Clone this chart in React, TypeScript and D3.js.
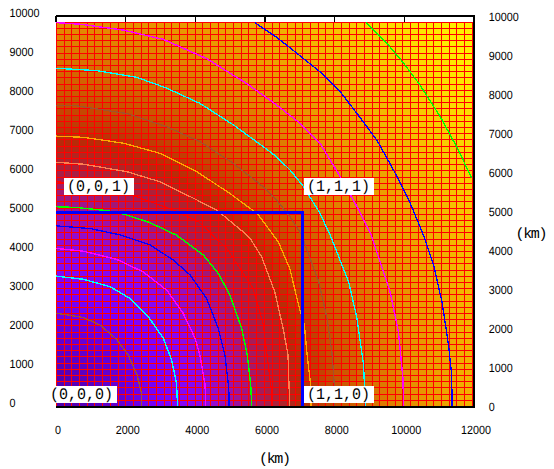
import React from "react";
import * as d3 from "d3";

const xTicks = [0, 2000, 4000, 6000, 8000, 10000, 12000];
const yTicks = [0, 1000, 2000, 3000, 4000, 5000, 6000, 7000, 8000, 9000, 10000];

// Background field sampled every 1000 km (rows: y = 0..10, columns: x = 0..12)
const fieldRows = [
  [0, 1, 2, 3, 4, 5, 6, 7, 8, 9, 10, 11, 12],
  [1.03, 1.44, 2.25, 3.17, 4.13, 5.1, 6.09, 7.08, 8.07, 9.06, 10.05, 11.05, 12.04],
  [2.06, 2.29, 2.87, 3.64, 4.5, 5.41, 6.34, 7.3, 8.26, 9.23, 10.21, 11.19, 12.18],
  [3.09, 3.25, 3.68, 4.31, 5.05, 5.88, 6.75, 7.65, 8.58, 9.52, 10.47, 11.43, 12.39],
  [4.12, 4.24, 4.58, 5.1, 5.74, 6.48, 7.28, 8.12, 9.0, 9.9, 10.82, 11.75, 12.69],
  [5.15, 5.25, 5.52, 5.96, 6.52, 7.18, 7.91, 8.69, 9.51, 10.37, 11.25, 12.15, 13.06],
  [6.18, 6.26, 6.5, 6.87, 7.36, 7.95, 8.61, 9.34, 10.11, 10.92, 11.76, 12.62, 13.5],
  [7.21, 7.28, 7.48, 7.81, 8.24, 8.77, 9.38, 10.05, 10.77, 11.53, 12.33, 13.15, 14.0],
  [8.24, 8.3, 8.48, 8.77, 9.16, 9.64, 10.19, 10.81, 11.48, 12.2, 12.96, 13.74, 14.56],
  [9.27, 9.32, 9.48, 9.74, 10.1, 10.53, 11.04, 11.62, 12.24, 12.92, 13.64, 14.39, 15.16],
  [10.3, 10.35, 10.49, 10.73, 11.05, 11.45, 11.92, 12.45, 13.04, 13.68, 14.36, 15.07, 15.81],
];
const colorLevels = [0, 1, 2, 3, 4, 5, 6, 7, 8, 9, 10, 11, 12, 13, 14, 15, 16];
const colorStops = ["#5000a8", "#5800b8", "#6600d8", "#7a00ff", "#8a08f0", "#9a10b0", "#a81c50", "#b82a08", "#c84e00", "#d86e00", "#e48a00", "#eca000", "#f2b400", "#f8c800", "#fcdc00", "#ffee00", "#fff000"];

const gridStepXKm = 221;
const gridStepYKm = 159;
const gridTopKm = 9835;
const gridRightKm = 11970;

type Pt = [number, number];
const brownInner: Pt[] = [[0, 2.38], [0.78, 2.27], [1.26, 2.08], [1.74, 1.71], [2.07, 1.31], [2.33, 0.79], [2.45, 0.33], [2.45, 0]];
const cyanInner: Pt[] = [[0, 3.33], [0.78, 3.25], [1.55, 3.06], [2.12, 2.76], [2.65, 2.29], [3.08, 1.74], [3.32, 1.18], [3.46, 0.58], [3.49, 0]];
const magentaInner: Pt[] = [[0, 4.04], [0.78, 3.97], [1.74, 3.76], [2.5, 3.44], [3.18, 2.97], [3.65, 2.38], [3.99, 1.74], [4.13, 1.31], [4.28, 0.54], [4.3, 0]];
const blueInner: Pt[] = [[0, 4.62], [0.98, 4.55], [1.88, 4.38], [2.7, 4.13], [3.37, 3.74], [3.85, 3.36], [4.32, 2.76], [4.66, 1.99], [4.85, 1.31], [4.96, 0.45], [4.97, 0]];
const greenInner: Pt[] = [[0, 5.11], [0.59, 5.09], [1.45, 5.01], [1.95, 4.92], [2.7, 4.7], [3.46, 4.38], [4.23, 3.87], [4.66, 3.4], [4.99, 2.85], [5.33, 1.99], [5.49, 1.31], [5.59, 0.54], [5.62, 0]];
const redLine: Pt[] = [[0, 5.75], [1, 5.68], [2.2, 5.4], [3.3, 5.05], [4.1, 4.72], [4.9, 4.04], [5.65, 3.03], [5.95, 2.1], [6.08, 1.14], [6.2, 0.3], [6.2, 0]];
const salmonLine: Pt[] = [[0, 6.25], [0.78, 6.2], [2.03, 6.01], [2.98, 5.75], [3.85, 5.37], [4.61, 5.03], [5.42, 4.43], [5.57, 4.3], [5.9, 3.83], [6.28, 2.93], [6.52, 1.99], [6.66, 1.31], [6.71, 0]];
const orangeLine: Pt[] = [[0, 6.92], [0.78, 6.89], [1.93, 6.74], [2.98, 6.48], [4.04, 6.01], [4.99, 5.45], [5.66, 5.01], [5.81, 4.9], [6.38, 4.21], [6.71, 3.53], [7.0, 2.46], [7.13, 2.08], [7.2, 1.39], [7.3, 0.62], [7.32, 0]];
const brownOuter: Pt[] = [[0, 7.71], [0.5, 7.71], [2.03, 7.5], [3.18, 7.16], [4.13, 6.78], [5.09, 6.22], [5.95, 5.62], [6.33, 5.28], [6.72, 4.85], [7.06, 4.38], [7.15, 4.13], [7.54, 3.19], [7.78, 2.25], [7.92, 1.39], [7.99, 0.54], [8.0, 0]];
const cyanOuter: Pt[] = [[0, 8.66], [1.17, 8.6], [2.31, 8.43], [3.18, 8.15], [4.13, 7.76], [5.09, 7.21], [5.95, 6.65], [6.33, 6.39], [6.72, 6.05], [7.11, 5.62], [7.58, 4.94], [7.87, 4.38], [8.4, 3.19], [8.64, 2.25], [8.83, 1.05], [8.88, 0]];
const magentaOuter: Pt[] = [[0, 9.83], [0.69, 9.79], [1.93, 9.64], [3.08, 9.4], [4.32, 8.91], [5.47, 8.27], [6.33, 7.72], [7.01, 7.25], [7.58, 6.74], [8.16, 5.88], [8.64, 5.11], [9.05, 4.38], [9.59, 2.93], [9.83, 1.91], [9.96, 0.71], [9.98, 0]];
const blueOuter: Pt[] = [[5.71, 9.83], [6.34, 9.45], [6.92, 9.04], [7.58, 8.57], [8.16, 8.06], [8.64, 7.5], [9.21, 6.82], [9.69, 6.05], [10.17, 5.2], [10.55, 4.38], [10.84, 3.62], [11.08, 2.67], [11.27, 1.56], [11.36, 0.79], [11.37, 0]];
const greenOuter: Pt[] = [[8.9, 9.83], [9.5, 9.3], [9.98, 8.79], [10.45, 8.23], [11.03, 7.42], [11.5, 6.65], [11.94, 5.84]];

const contours: { pts: Pt[]; color: string; w: number }[] = [
  { pts: brownInner, color: "#a0522d", w: 1.3 },
  { pts: cyanInner, color: "#00ffff", w: 1.4 },
  { pts: magentaInner, color: "#ff00ff", w: 1.4 },
  { pts: blueInner, color: "#0000ff", w: 1.3 },
  { pts: greenInner, color: "#00ff00", w: 1.4 },
  { pts: redLine, color: "#ff0000", w: 1.2 },
  { pts: salmonLine, color: "#ff7f50", w: 1.3 },
  { pts: orangeLine, color: "#ffa500", w: 1.3 },
  { pts: brownOuter, color: "#a0522d", w: 1.3 },
  { pts: cyanOuter, color: "#00ffff", w: 1.3 },
  { pts: magentaOuter, color: "#ff00ff", w: 1.4 },
  { pts: blueOuter, color: "#0000ff", w: 1.3 },
  { pts: greenOuter, color: "#00ff00", w: 1.3 },
];

const boxKm: Pt[] = [[0, 4960], [7070, 4960], [7070, 0]];
const cornerLabels = [
  { text: "(0,0,1)", left: 64, top: 178 },
  { text: "(1,1,1)", left: 304, top: 178 },
  { text: "(0,0,0)", left: 47, top: 386 },
  { text: "(1,1,0)", left: 304, top: 386 },
];

const x = d3.scaleLinear().domain([0, 12000]).range([56, 474]);
const y = d3.scaleLinear().domain([0, 10000]).range([406, 16]);
const colorScale = d3.scaleLinear<string>().domain(colorLevels).range(colorStops).interpolate(d3.interpolateRgb);
const MONO = "'Liberation Mono', monospace";
const SANS = "'Liberation Sans', sans-serif";
const snapX = (km: number) => Math.round(x(km));
const snapY = (km: number) => Math.round(y(km));

function fieldAt(kx: number, ky: number) {
  const fx = Math.min(kx / 1000, 11.999);
  const fy = Math.min(ky / 1000, 9.999);
  const i = Math.floor(fx);
  const j = Math.floor(fy);
  const a = d3.interpolateNumber(fieldRows[j][i], fieldRows[j][i + 1])(fx - i);
  const b = d3.interpolateNumber(fieldRows[j + 1][i], fieldRows[j + 1][i + 1])(fx - i);
  return d3.interpolateNumber(a, b)(fy - j);
}

export default function App() {
  const xs = d3.range(0, gridRightKm, gridStepXKm);
  const ys = d3.range(0, gridTopKm, gridStepYKm);
  const line = d3.line<Pt>().x((d) => x(d[0] * 1000)).y((d) => y(d[1] * 1000));
  const boxLine = d3.line<Pt>().x((d) => x(d[0])).y((d) => y(d[1]));
  return (
    <svg width={554} height={469} style={{ position: "absolute", left: 0, top: 0, background: "#fff" }} textRendering="geometricPrecision">
      <g shapeRendering="crispEdges">
        {xs.map((kx) =>
          ys.map((ky) => {
            const x1 = Math.min(kx + gridStepXKm, gridRightKm);
            const y1 = Math.min(ky + gridStepYKm, gridTopKm);
            return (
              <rect
                key={kx + "-" + ky}
                x={snapX(kx)}
                y={snapY(y1)}
                width={snapX(x1) - snapX(kx) + 1}
                height={snapY(ky) - snapY(y1) + 1}
                fill={colorScale(fieldAt((kx + x1) / 2, (ky + y1) / 2))}
              />
            );
          })
        )}
        {xs.map((kx) => (
          <rect key={kx} x={snapX(kx)} width={1} y={snapY(gridTopKm)} height={snapY(0) - snapY(gridTopKm)} fill="#ff0000" />
        ))}
        {ys.map((ky) => (
          <rect key={ky} x={snapX(0)} width={snapX(gridRightKm) - snapX(0)} y={snapY(ky)} height={1} fill="#ff0000" />
        ))}
        <rect x={snapX(0)} width={snapX(gridRightKm) - snapX(0)} y={snapY(gridTopKm)} height={1} fill="#ff0000" />
      </g>
      <g fill="none" shapeRendering="crispEdges">
        {contours.map((c, i) => (
          <path key={i} d={line(c.pts) ?? ""} stroke={c.color} strokeWidth={c.w} />
        ))}
        <path d={boxLine(boxKm) ?? ""} stroke="#0000ff" strokeWidth={3} />
      </g>
      {cornerLabels.map((l) => (
        <g key={l.text}>
          <rect x={l.left} y={l.top} width={70} height={17} fill="#fff" shapeRendering="crispEdges" />
          <text x={l.left + 3} y={l.top + 13} fontFamily={MONO} fontSize={16} textLength={63} lengthAdjust="spacingAndGlyphs" fill="#000">
            {l.text}
          </text>
        </g>
      ))}
      <g stroke="#000" shapeRendering="crispEdges" fill="none">
        <line x1={x(0)} x2={x(12000) + 1} y1={y(10000)} y2={y(10000)} strokeWidth={2} />
        <line x1={x(0)} x2={x(12000) + 1} y1={y(0) + 1} y2={y(0) + 1} strokeWidth={2} />
        <line x1={x(12000)} x2={x(12000)} y1={y(10000) - 1} y2={y(0) + 2} strokeWidth={2} />
        {xTicks.map((t) => (
          <line key={t} x1={x(t)} x2={x(t)} y1={y(10000)} y2={y(10000) + 6} strokeWidth={1.5} />
        ))}
      </g>
      <g fontFamily={SANS} fontSize={12} fill="#000">
        {yTicks.map((t) => (
          <text key={"l" + t} x={9.5} y={y(t) + 1} textLength={String(t).length * 6} lengthAdjust="spacingAndGlyphs">
            {t}
          </text>
        ))}
        {yTicks.map((t) => (
          <text key={"r" + t} x={488.7} y={y(t) + 5} textLength={String(t).length * 6} lengthAdjust="spacingAndGlyphs">
            {t}
          </text>
        ))}
        {xTicks.map((t) => (
          <text key={"x" + t} x={x(t) + 2 - (String(t).length * 6) / 2} y={433.7} textLength={String(t).length * 6} lengthAdjust="spacingAndGlyphs">
            {t}
          </text>
        ))}
      </g>
      <g fontFamily={MONO} fontSize={15} fill="#000">
        <text x={515.5} y={238} textLength={32}>(km)</text>
        <text x={259} y={463} textLength={32}>(km)</text>
      </g>
    </svg>
  );
}
